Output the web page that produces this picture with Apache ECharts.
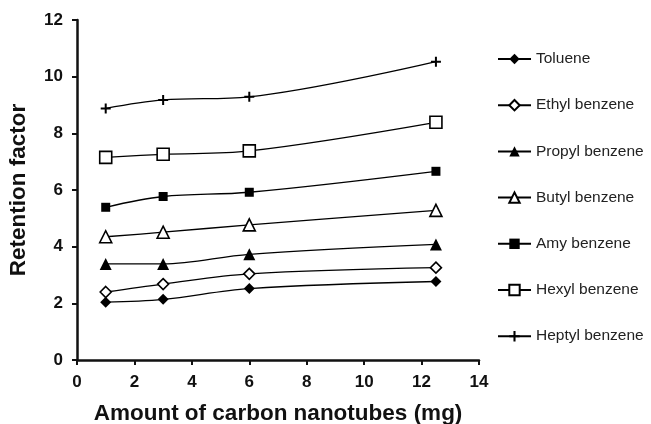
<!DOCTYPE html>
<html>
<head>
<meta charset="utf-8">
<script src="https://cdn.jsdelivr.net/npm/echarts@6/dist/echarts.min.js"></script>
<style>
  html, body { margin: 0; padding: 0; background: #fff; }
  #chart { width: 651px; height: 424px; }
</style>
</head>
<body>
<div id="chart"></div>
<script>
// Amount of carbon nanotubes (mg)
const amounts = [1, 3, 6, 12.5];

// Retention factor per analyte
const toluene = [2.04, 2.14, 2.52, 2.77];
const ethylBenzene = [2.40, 2.68, 3.04, 3.26];
const propylBenzene = [3.39, 3.39, 3.73, 4.08];
const butylBenzene = [4.35, 4.51, 4.77, 5.28];
const amyBenzene = [5.39, 5.77, 5.92, 6.66];
const hexylBenzene = [7.15, 7.26, 7.38, 8.39];
const heptylBenzene = [8.88, 9.18, 9.29, 10.53];

const seriesNames = ['Toluene', 'Ethyl benzene', 'Propyl benzene', 'Butyl benzene',
  'Amy benzene', 'Hexyl benzene', 'Heptyl benzene'];

const plusPath = 'path://M4,0h2v10h-2zM0,4h10v2h-10z';

const markers = [
  { symbol: 'diamond', size: 11, fill: '#000' },
  { symbol: 'diamond', size: 11, fill: '#fff' },
  { symbol: 'triangle', size: 12, fill: '#000' },
  { symbol: 'triangle', size: 12, fill: '#fff' },
  { symbol: 'rect', size: 9, fill: '#000' },
  { symbol: 'rect', size: 12, fill: '#fff' },
  { symbol: plusPath, size: 10, fill: '#000' }
];

const values = [toluene, ethylBenzene, propylBenzene, butylBenzene,
  amyBenzene, hexylBenzene, heptylBenzene];

const series = values.map((vals, i) => ({
  name: seriesNames[i],
  type: 'line',
  smooth: 0.35,
  data: amounts.map((x, j) => [x, vals[j]]),
  symbol: markers[i].symbol,
  symbolSize: markers[i].size,
  showAllSymbol: true,
  lineStyle: { color: '#000', width: 1.3 },
  itemStyle: {
    color: markers[i].fill,
    borderColor: '#000',
    borderWidth: markers[i].fill === '#fff' ? 1.6 : 0
  },
  emphasis: { disabled: true },
  z: 3
}));

const tickFont = { fontFamily: 'Liberation Sans, Arial, sans-serif', fontWeight: 'bold', fontSize: 17, color: '#111' };
const titleFont = { fontFamily: 'Liberation Sans, Arial, sans-serif', fontWeight: 'bold', fontSize: 22.5, color: '#111' };

const chart = echarts.init(document.getElementById('chart'), null, { renderer: 'canvas' });
chart.setOption({
  animation: false,
  backgroundColor: '#fff',
  grid: { left: 77, right: 172, top: 20, bottom: 64, containLabel: false, outerBoundsMode: 'none' },
  xAxis: {
    type: 'value',
    min: 0, max: 14, interval: 2,
    name: 'Amount of carbon nanotubes (mg)',
    nameLocation: 'middle',
    nameGap: 42,
    nameTextStyle: titleFont,
    axisLine: { lineStyle: { color: '#111', width: 2.5 } },
    axisTick: { show: true, length: 5, lineStyle: { color: '#111', width: 2 } },
    axisLabel: Object.assign({ margin: 14 }, tickFont),
    splitLine: { show: false }
  },
  yAxis: {
    type: 'value',
    min: 0, max: 12, interval: 2,
    name: 'Retention factor',
    nameLocation: 'middle',
    nameGap: 47,
    nameTextStyle: titleFont,
    axisLine: { show: true, lineStyle: { color: '#111', width: 2.5 } },
    axisTick: { show: true, length: 5, lineStyle: { color: '#111', width: 2 } },
    axisLabel: Object.assign({ margin: 14 }, tickFont),
    splitLine: { show: false }
  },
  legend: {
    orient: 'vertical',
    left: 492,
    top: 46,
    itemWidth: 33,
    itemHeight: 13,
    itemGap: 30.2,
    data: seriesNames,
    selectedMode: false,
    textStyle: { fontFamily: 'Liberation Sans, Arial, sans-serif', fontSize: 15.5, lineHeight: 16, color: '#222' }
  },
  series: series
});
</script>
</body>
</html>
